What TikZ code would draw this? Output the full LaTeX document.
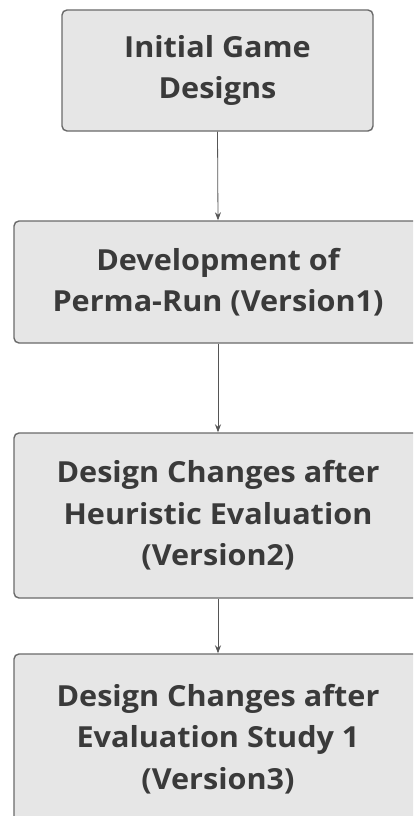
\documentclass[tikz,border=0pt]{standalone}
\usepackage{fontspec}
\setmainfont[FakeStretch=1.055]{Open Sans}
\usetikzlibrary{arrows.meta}
\definecolor{boxfill}{HTML}{E6E6E6}
\definecolor{boxline}{HTML}{6A6A6A}
\definecolor{txt}{HTML}{3A3A3A}
\definecolor{arr}{HTML}{555555}
\tikzset{
  stagebox/.style={draw=boxline, line width=1.4pt, fill=boxfill, rounded corners=5pt,
    inner sep=0pt, align=center, text=txt,
    font=\bfseries\fontsize{29}{41.5}\selectfont},
  flowarrow/.style={draw=arr, line width=0.8pt, -{Stealth[length=8pt,width=6pt]}}
}
\begin{document}
\begin{tikzpicture}[x=1pt,y=-1pt]
\useasboundingbox (0,0) rectangle (413,816);
\clip (0,0) rectangle (413,816);
\fill[white] (0,0) rectangle (413,816);
\node[stagebox, minimum width=311pt, minimum height=121pt] (b1) at (217.5,70.5) {Initial Game\\Designs};
\node[stagebox, minimum width=408pt, minimum height=122pt] (b2) at (218,282) {Development of\\Perma-Run (Version1)};
\node[stagebox, minimum width=408pt, minimum height=165pt] (b3) at (218,515.5) {Design Changes after\\Heuristic Evaluation\\(Version2)};
\node[stagebox, minimum width=408pt, minimum height=170pt] (b4) at (218,739) {Design Changes after\\Evaluation Study 1\\(Version3)};
\draw[flowarrow] (b1.south) -- (b2.north);
\draw[flowarrow] (b2.south) -- (b3.north);
\draw[flowarrow] (b3.south) -- (b4.north);
\end{tikzpicture}
\end{document}
